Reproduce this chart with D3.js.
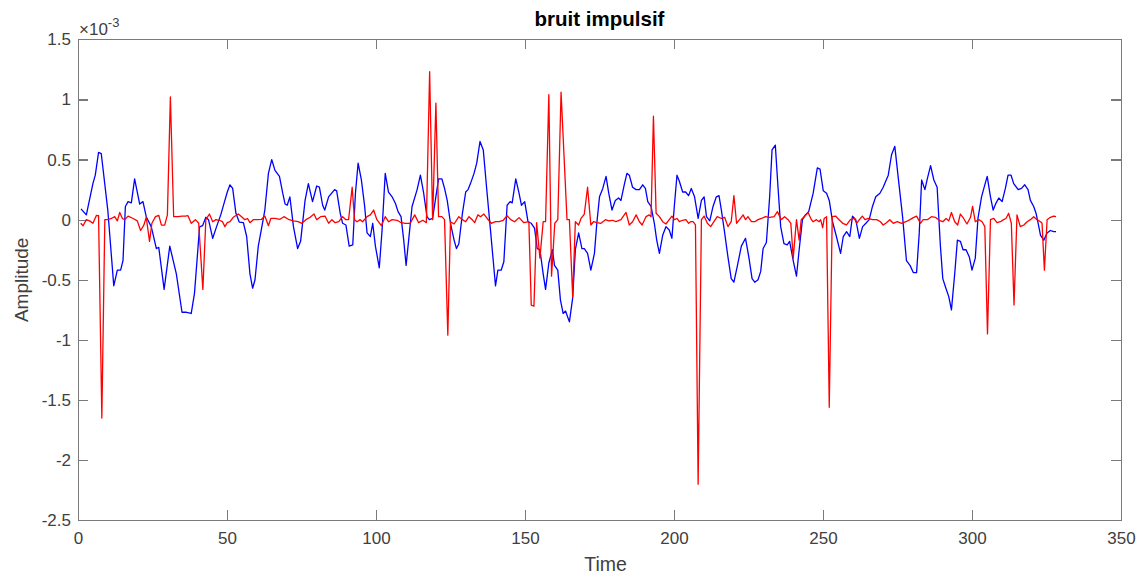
<!DOCTYPE html>
<meta charset="utf-8">
<style>
body { margin: 0; background: #fff; }
svg { font-family: "Liberation Sans", Arial, Helvetica, sans-serif; }
.axis path, .axis line { stroke: #7a7a7a; stroke-width: 1.2; shape-rendering: crispEdges; }
.axis text { fill: #404040; font-size: 17px; }
.line { fill: none; stroke-width: 1.3; stroke-linejoin: round; }
</style>
<body>
<script src="https://d3js.org/d3.v7.min.js"></script>
<script>

// values in units of 1e-3 (the axis shows x10^-3)
var blueT = [1,2.8,5,5.8,6.9,7.8,10,12,13.2,14.3,15.1,15.9,16.8,17.9,19,20.7,21.8,22.9,24.6,26.3,27.1,28.9,30.8,33,34.9,36.4,38,39.1,40.8,41.8,
  42.9,43.8,45.2,46.5,47.9,49,50.1,51,51.9,53,54.1,55.5,56.6,57.7,58.6,59.4,60.5,61.4,62.7,63.9,65,66.1,67.6,68.7,69.5,70.2,71.1,72.3,73.7,74.7,76.2,77.3,78.7,80.1,81,
  82.1,82.8,84.1,86.1,86.8,88,88.8,89.9,91,92.2,93.1,94,95.1,96.2,97,98.1,98.9,99.8,101.1,102,103.1,104.2,105.4,106.5,107.4,108.4,109.3,110.1,111.2,112.1,113.8,114.9,116,117.1,117.9,119,119.9,121,122.1,123,
  123.9,125,126.2,127,127.8,129,130.1,130.9,131.7,132.9,133.8,134.9,136,137.1,138.5,140.1,140.9,142,142.9,144,145,145.7,146.9,148,148.8,149.9,151,152.1,153.2,154.1,155,156.1,156.9,158,159.2,159.9,161,161.9,162.8,163.6,
  164.9,166,166.9,168,169.1,169.9,171,172.1,173.3,174.1,175,176.1,177.2,178.1,179.2,180.3,181.4,182.2,183.3,184.2,185,186.1,187.3,188.4,189.5,190.4,191.2,192.3,193.4,194.2,195.1,196.2,197.3,198.4,199.3,200.1,201,201.8,202.9,203.9,204.9,
  205.8,206.9,208.1,209.2,210.1,210.9,212,213.1,214.2,215.1,215.9,217,218.1,219.2,220.1,221.3,222.6,224,225.1,226.2,227.1,228.2,229.1,229.9,231,232.1,232.9,234,234.9,235.8,236.9,238,238.8,240,241.1,242,243.1,244.1,245.2,
  246.7,248.1,249,250.1,251.2,252.1,253.2,254.5,255.9,256.8,257.9,259,259.9,261,262.2,263.3,264.4,265.5,266.6,267.7,269.1,270.2,271.9,273,274.1,275.2,276.7,278,279.2,280.3,281.4,282.3,283.1,284.2,285,286.1,
  287.2,288.3,289.4,290.2,291.1,292.2,293.1,294.2,295.1,296.1,297,298,299.1,300,301.1,302,303.2,304.3,305.1,306.2,307.1,308.1,309,310.1,311.2,312.1,313.1,314,315.5,316.6,317.7,318.8,319.6,320.7,321.5,322.2,323,324.1,325.2,326.3,327.4,328.2];
var blueV = [0.09,0.04,0.3,0.37,0.56,0.55,0.08,-0.55,-0.42,-0.42,-0.34,0.11,0.15,0.14,0.34,0.13,0.15,0.025,-0.06,-0.24,-0.23,-0.58,-0.22,-0.45,-0.77,-0.77,-0.78,-0.61,-0.06,-0.05,
  0.02,0.0,-0.155,-0.058,0.04,0.136,0.23,0.29,0.26,0.053,-0.02,-0.025,-0.14,-0.45,-0.57,-0.5,-0.22,-0.1,0.08,0.385,0.5,0.41,0.36,0.22,0.13,0.12,0.19,-0.058,-0.24,-0.18,0.16,0.3,0.15,0.28,0.27,
  0.12,0.08,0.19,0.25,0.24,0.053,-0.03,-0.044,-0.22,-0.21,0.22,0.47,0.33,0.11,-0.11,-0.14,-0.03,-0.22,-0.4,-0.1,0.385,0.23,0.19,0.136,0.067,0.025,-0.17,-0.38,-0.11,0.11,0.25,0.37,0.22,0.025,0,0.01,0.16,0.34,0.34,0.26,
  0.16,-0.03,-0.17,-0.24,-0.2,0.053,0.23,0.25,0.3,0.385,0.47,0.65,0.58,0.27,-0.11,-0.55,-0.42,-0.42,-0.35,0.12,0.15,0.14,0.34,0.22,0.12,0.15,-0.017,-0.03,-0.07,-0.24,-0.25,-0.45,-0.58,-0.36,-0.25,-0.38,-0.42,-0.67,-0.78,-0.76,
  -0.85,-0.65,-0.25,-0.11,-0.24,-0.24,-0.28,-0.42,-0.28,-0.03,0.19,0.26,0.36,0.22,0.08,0.16,0.18,0.16,0.29,0.385,0.37,0.27,0.25,0.25,0.29,0.26,0.15,0.11,-0.03,-0.17,-0.28,-0.13,-0.058,-0.086,-0.155,0.11,0.37,0.32,0.23,0.23,0.2,
  0.26,0.19,0.01,0.16,0.19,0.025,-0.01,0.11,0.19,0.2,0.08,-0.11,-0.31,-0.49,-0.52,-0.38,-0.22,-0.155,-0.31,-0.49,-0.52,-0.5,-0.43,-0.24,-0.19,0.19,0.58,0.62,0.27,-0.058,-0.2,-0.21,-0.18,-0.34,-0.47,-0.25,0,0.04,0.067,
  0.22,0.43,0.42,0.24,0.22,0.16,-0.017,-0.14,-0.28,-0.14,-0.1,-0.14,0.03,0,-0.155,-0.058,-0.03,0,0.11,0.19,0.22,0.27,0.37,0.54,0.61,0.36,0.025,-0.34,-0.38,-0.44,-0.44,-0.11,0.33,0.25,0.34,0.45,
  0.33,0.27,-0.22,-0.49,-0.56,-0.64,-0.75,-0.45,-0.17,-0.18,-0.25,-0.25,-0.31,-0.42,-0.32,0.01,0.19,0.29,0.36,0.19,0.08,0.14,0.18,0.15,0.26,0.37,0.37,0.3,0.25,0.26,0.29,0.25,0.16,0.11,0.053,-0.03,-0.13,-0.17,-0.11,-0.09,-0.1,-0.1];

var redT = [0.9,1.7,2.8,3.9,5,6.2,6.9,8,9,10,11.2,12.3,13.2,14,14.9,15.7,16.8,18.5,19.9,21,22.1,22.9,24,24.8,26,27.1,28,29.1,30,31,32.1,33.6,34.9,36,36.9,38,39.4,40.5,41.9,
  42.9,44.1,45.2,46.3,47.4,48.5,49.3,50.1,51,52.1,53.8,54.9,56,56.9,57.7,58.8,60,61.6,62.7,63.9,64.7,66.1,67.8,69.1,70.6,72.3,73.9,75.1,76.5,77.9,79.2,80.1,81.4,82.9,
  84.1,85.2,86.3,87.5,88.8,89.9,90.8,92,92.8,93.6,94.7,95.5,97,98.1,99.2,100.3,101.8,103.1,104.2,105.4,107.1,108.2,109.8,111.5,113,114.3,115.7,116.9,118,119,120.1,121,122.1,123,
  124.1,125,126.2,127.8,129,130.1,131.2,132.3,133.1,134.2,135.1,136.2,137.3,138.7,140.1,141.3,142.7,144,145.2,146.5,148,149.6,151.3,152.1,153,153.9,155,156.1,156.9,158,158.9,160,161,162.1,164.1,
  164.9,166,166.9,168,168.8,169.9,171,172.1,173,174.1,175.5,177,178.1,179.4,180.5,182.2,183.9,185,186.1,187.3,188.4,189.3,190.6,191.7,192.3,193.1,194,195.1,196.2,197.3,198.4,199.3,200.1,201,201.8,202.9,204,204.9,
  205.6,206.4,207.2,208.1,209.2,210.1,211.2,212.3,213.4,214.5,215.9,217,218.1,219.2,220.1,221,222,223.2,224,224.8,226,227.1,228.2,229.3,230.7,232.1,233.6,234.7,236,237.1,238.3,239.2,240,241.1,242,242.7,243.9,245,246.1,
  246.7,247.8,248.7,249.2,249.9,250.4,251.2,252.1,253.1,254.2,255.4,256.6,257.9,259.2,260.5,261.3,262.2,263.2,264.1,265.2,266.6,268,269.3,270.2,271.3,272.4,273.6,274.9,276.4,277.8,279.2,280.3,281.4,282.7,283.6,285,286.4,
  287.7,289,290.2,291.3,292.2,293.1,294.2,295.2,296.1,297.2,298.3,299.5,300.2,301.1,302.3,303.4,304.3,305.2,306.2,307.3,308.4,309.5,310.6,311.4,312.3,313.2,314.1,315.1,316.2,317.4,318.5,319.6,320.7,321.8,323,323.5,324.3,325.2,326.3,327.4,328.2];
var redV = [-0.03,-0.05,0,-0.01,-0.03,0.036,0.033,-1.65,0,0,0.01,0.025,-0.01,0.06,0.01,0,0.03,0.01,-0.01,-0.09,-0.045,0.02,-0.18,-0.03,0.025,0.036,-0.045,-0.045,0.04,1.02,0.025,0.025,0.03,0.03,0.033,-0.03,0,-0.03,-0.58,
  0,0.047,-0.017,0,-0.005,-0.017,-0.058,-0.025,-0.017,0.02,0.047,0.025,0,0.01,-0.025,0,0,0.003,0.03,-0.05,0.01,0.01,0.003,0.025,0.003,-0.01,-0.017,-0.03,0,0.02,0.047,0,0.025,0.03,
  -0.03,0,-0.025,-0.017,0.025,0,0,0.27,0,-0.017,0,-0.017,0.025,0.04,0.08,0,-0.05,0.025,-0.017,0,-0.005,-0.022,-0.03,-0.03,0.04,-0.025,-0.005,-0.025,1.23,0,0.97,0.025,0.025,0,
  -0.96,-0.017,-0.036,0.025,0,-0.017,0.025,0,-0.025,0.04,0.025,0.047,0.01,-0.03,-0.017,-0.017,-0.005,0.033,0,-0.017,0.017,-0.025,-0.017,-0.71,-0.72,-0.025,-0.32,-0.017,-0.017,1.04,-0.47,-0.03,0,1.06,0,
  0,-0.64,-0.017,-0.044,0.01,0.047,0.27,-0.044,-0.017,-0.025,-0.03,0,-0.01,-0.005,-0.017,0,0.06,-0.044,-0.017,0.04,-0.017,-0.044,0.025,0.04,0.025,0.86,0.053,0.025,-0.017,-0.036,0,0.03,0,0.01,-0.017,-0.005,0,-0.03,
  -0.017,-0.017,-0.044,-2.2,0,0.03,-0.03,-0.058,-0.017,0.025,0.01,0.02,-0.058,-0.017,0.2,-0.03,0,0.04,0,0.025,-0.017,-0.017,0,0.01,0.025,0.02,0.025,0.067,0,0.025,0,-0.03,-0.32,0,-0.17,0,0.03,0.06,0,
  -0.017,0,-0.017,0,-0.067,0.01,0.025,-1.56,0.025,0.03,0,-0.03,-0.044,0,0.01,-0.03,0,0.03,0,0.01,0,0,-0.017,-0.044,-0.025,0,-0.03,-0.017,-0.03,-0.017,0,0.017,0.03,-0.03,0,0,0.025,
  0.02,-0.005,-0.017,0.01,-0.01,0.06,-0.017,-0.044,0.047,0.01,-0.036,0.02,0.11,-0.017,0,-0.017,-0.058,-0.95,0,0.01,-0.025,-0.017,0,0.01,0.053,-0.03,-0.71,0.04,-0.058,-0.044,-0.017,0,0.025,0,-0.017,-0.03,-0.42,0,0.02,0.03,0.025];

var xTicks = [0, 50, 100, 150, 200, 250, 300, 350];
var yTicks = [-2.5, -2, -1.5, -1, -0.5, 0, 0.5, 1, 1.5];

var W = 1148, H = 576;
var pL = 78, pR = 1121, pT = 39.3, pB = 520.3;

var svg = d3.select("body").append("svg")
    .attr("width", W)
    .attr("height", H);

svg.append("rect").attr("width", W).attr("height", H).attr("fill", "#fff");

var x = d3.scaleLinear().domain([0, 350]).range([pL, pR]);
var y = d3.scaleLinear().domain([-2.5, 1.5]).range([pB, pT]);

var fmt = function(d) { return String(d); };

// axes, ticks pointing inward like matlab
svg.append("g").attr("class", "axis")
    .attr("transform", "translate(0," + pB + ")")
    .call(d3.axisBottom(x).tickValues(xTicks).tickFormat(fmt).tickSizeInner(-10).tickSizeOuter(0).tickPadding(12));
svg.append("g").attr("class", "axis")
    .attr("transform", "translate(0," + pT + ")")
    .call(d3.axisTop(x).tickValues(xTicks).tickFormat("").tickSizeInner(-10).tickSizeOuter(0));
svg.append("g").attr("class", "axis")
    .attr("transform", "translate(" + pL + ",0)")
    .call(d3.axisLeft(y).tickValues(yTicks).tickFormat(fmt).tickSizeInner(-10).tickSizeOuter(0).tickPadding(7));
svg.append("g").attr("class", "axis")
    .attr("transform", "translate(" + pR + ",0)")
    .call(d3.axisRight(y).tickValues(yTicks).tickFormat("").tickSizeInner(-10).tickSizeOuter(0));

var line = d3.line()
    .x(function(d) { return x(d[0]); })
    .y(function(d) { return y(d[1]); });

svg.append("path").attr("class", "line")
    .datum(d3.zip(blueT, blueV))
    .attr("stroke", "#0000ff")
    .attr("d", line);

svg.append("path").attr("class", "line")
    .datum(d3.zip(redT, redV))
    .attr("stroke", "#ff0000")
    .attr("d", line);

// exponent
var ex = svg.append("text").attr("x", 79).attr("y", 35)
    .attr("fill", "#404040").style("font-size", "17px");
ex.append("tspan").text("\u00d710");
ex.append("tspan").attr("dy", -8).style("font-size", "13px").text("-3");

// title and labels
svg.append("text")
    .attr("x", (pL + pR) / 2).attr("y", 26)
    .attr("text-anchor", "middle")
    .style("font-size", "20.5px").style("font-weight", "bold")
    .attr("fill", "#000")
    .text("bruit impulsif");

svg.append("text")
    .attr("x", (pL + pR) / 2 + 6).attr("y", 571)
    .attr("text-anchor", "middle")
    .style("font-size", "19.5px")
    .attr("fill", "#404040")
    .text("Time");

svg.append("text")
    .attr("transform", "translate(28," + ((pT + pB) / 2) + ") rotate(-90)")
    .attr("text-anchor", "middle")
    .style("font-size", "19px")
    .attr("fill", "#404040")
    .text("Amplitude");

</script>
</body>
